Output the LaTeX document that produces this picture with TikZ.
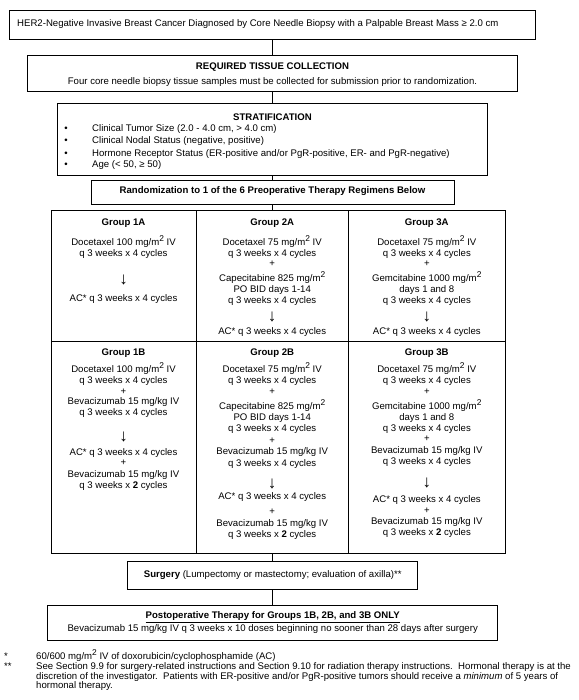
\documentclass[tikz,border=0pt]{standalone}
\usepackage{fontspec}
\setmainfont{Liberation Sans}
\newcommand\fs{\fontsize{9.6}{11}\selectfont}
\newcommand\sq{\raisebox{0.42em}{\fontsize{8.4}{9}\selectfont 2}}
\newcommand\arr{{\fontsize{17}{17}\selectfont ↓}}
\newcommand\Tl[4]{\node[txt] (#1) at (#2,#3) {#4};}
\newcommand\Tw[4]{\node[txtw] (#1) at (#2,#3) {#4};}
\newcommand\Ta[3]{\node[arrtxt] (#1) at (#2,#3) {\arr};}
\begin{document}
\begin{tikzpicture}[x=1pt,y=-1pt,
  box/.style={draw, line width=0.9pt, inner sep=0pt},
  txt/.style={inner sep=0pt, anchor=mid, font=\fs},
  txtw/.style={inner sep=0pt, anchor=mid west, font=\fs},
  arrtxt/.style={inner sep=0pt, anchor=center},
  link/.style={draw, line width=0.9pt}]
\useasboundingbox[fill=white] (0,0) rectangle (578,700);

% boxes
\node[box, minimum width=526.1pt, minimum height=28.6pt] (top) at (272.3,25) {};
\node[box, minimum width=489.6pt, minimum height=35.7pt] (tissue) at (272.5,73.15) {};
\node[box, minimum width=429.6pt, minimum height=72pt] (strat) at (272.5,139) {};
\node[box, minimum width=363pt, minimum height=24.4pt] (rand) at (272.5,192.5) {};
\node[box, minimum width=145pt, minimum height=130.3pt] (g1a) at (123.5,275.85) {};
\node[box, minimum width=152.3pt, minimum height=130.3pt] (g2a) at (272.15,275.85) {};
\node[box, minimum width=157pt, minimum height=130.3pt] (g3a) at (426.8,275.85) {};
\node[box, minimum width=145pt, minimum height=212.3pt] (g1b) at (123.5,447.15) {};
\node[box, minimum width=152.3pt, minimum height=212.3pt] (g2b) at (272.15,447.15) {};
\node[box, minimum width=157pt, minimum height=212.3pt] (g3b) at (426.8,447.15) {};
\node[box, minimum width=290pt, minimum height=28.3pt] (surg) at (272.7,575.15) {};
\node[box, minimum width=450pt, minimum height=35pt] (post) at (272.7,622.5) {};

% connectors
\draw[link] (top.south) -- (top.south |- tissue.north);
\draw[link] (tissue.south) -- (tissue.south |- strat.north);
\draw[link] (strat.south) -- (strat.south |- rand.north);
\draw[link] (rand.south) -- (rand.south |- g2a.north);
\draw[link] (g2b.south) -- (g2b.south |- surg.north);
\draw[link] (surg.south) -- (surg.south |- post.north);

% top texts
\Tw{t1}{17}{24}{HER2-Negative Invasive Breast Cancer Diagnosed by Core Needle Biopsy with a Palpable Breast Mass ≥ 2.0 cm}
\Tl{t2a}{272.5}{67}{\textbf{REQUIRED TISSUE COLLECTION}}
\Tl{t2b}{272.5}{82}{Four core needle biopsy tissue samples must be collected for submission prior to randomization.}
\Tl{t3}{272.5}{118}{\textbf{STRATIFICATION}}
\Tl{b1}{66}{128.5}{•}
\Tl{b2}{66}{141}{•}
\Tl{b3}{66}{153.5}{•}
\Tl{b4}{66}{165}{•}
\Tw{s1}{92}{128.5}{Clinical Tumor Size (2.0 - 4.0 cm, > 4.0 cm)}
\Tw{s2}{92}{141}{Clinical Nodal Status (negative, positive)}
\Tw{s3}{92}{153.5}{Hormone Receptor Status (ER-positive and/or PgR-positive, ER- and PgR-negative)}
\Tw{s4}{92}{165}{Age (< 50, ≥ 50)}
\Tl{t4}{272.5}{191}{\textbf{Randomization to 1 of the 6 Preoperative Therapy Regimens Below}}

% Group 1A
\Tl{a1t}{123.5}{223}{\textbf{Group 1A}}
\Tl{a11}{123.5}{243}{Docetaxel 100 mg/m\sq{} IV}
\Tl{a12}{123.5}{254}{q 3 weeks x 4 cycles}
\Ta{a13}{123.5}{280}
\Tl{a14}{123.5}{299}{AC* q 3 weeks x 4 cycles}
% Group 2A
\Tl{a2t}{272.2}{223}{\textbf{Group 2A}}
\Tl{a21}{272.2}{243}{Docetaxel 75 mg/m\sq{} IV}
\Tl{a22}{272.2}{254}{q 3 weeks x 4 cycles}
\Tl{a23}{272.2}{264}{+}
\Tl{a24}{272.2}{279}{Capecitabine 825 mg/m\sq}
\Tl{a25}{272.2}{290}{PO BID days 1-14}
\Tl{a26}{272.2}{301}{q 3 weeks x 4 cycles}
\Ta{a27}{272.2}{317}
\Tl{a28}{272.2}{332}{AC* q 3 weeks x 4 cycles}
% Group 3A
\Tl{a3t}{426.8}{223}{\textbf{Group 3A}}
\Tl{a31}{426.8}{243}{Docetaxel 75 mg/m\sq{} IV}
\Tl{a32}{426.8}{254}{q 3 weeks x 4 cycles}
\Tl{a33}{426.8}{264}{+}
\Tl{a34}{426.8}{279}{Gemcitabine 1000 mg/m\sq}
\Tl{a35}{426.8}{290}{days 1 and 8}
\Tl{a36}{426.8}{301}{q 3 weeks x 4 cycles}
\Ta{a37}{426.8}{317}
\Tl{a38}{426.8}{332}{AC* q 3 weeks x 4 cycles}

% Group 1B
\Tl{b1t}{123.5}{353}{\textbf{Group 1B}}
\Tl{b11}{123.5}{370}{Docetaxel 100 mg/m\sq{} IV}
\Tl{b12}{123.5}{381}{q 3 weeks x 4 cycles}
\Tl{b13}{123.5}{392}{+}
\Tl{b14}{123.5}{402}{Bevacizumab 15 mg/kg IV}
\Tl{b15}{123.5}{413}{q 3 weeks x 4 cycles}
\Ta{b16}{123.5}{437}
\Tl{b17}{123.5}{453}{AC* q 3 weeks x 4 cycles}
\Tl{b18}{123.5}{463}{+}
\Tl{b19}{123.5}{475}{Bevacizumab 15 mg/kg IV}
\Tl{b1x}{123.5}{486}{q 3 weeks x \textbf{2} cycles}
% Group 2B
\Tl{b2t}{272.2}{353}{\textbf{Group 2B}}
\Tl{b21}{272.2}{370}{Docetaxel 75 mg/m\sq{} IV}
\Tl{b22}{272.2}{381}{q 3 weeks x 4 cycles}
\Tl{b23}{272.2}{392}{+}
\Tl{b24}{272.2}{407}{Capecitabine 825 mg/m\sq}
\Tl{b25}{272.2}{418}{PO BID days 1-14}
\Tl{b26}{272.2}{429}{q 3 weeks x 4 cycles}
\Tl{b27}{272.2}{441}{+}
\Tl{b28}{272.2}{452}{Bevacizumab 15 mg/kg IV}
\Tl{b29}{272.2}{464}{q 3 weeks x 4 cycles}
\Ta{b2a}{272.2}{484}
\Tl{b2b}{272.2}{497}{AC* q 3 weeks x 4 cycles}
\Tl{b2c}{272.2}{512}{+}
\Tl{b2d}{272.2}{524}{Bevacizumab 15 mg/kg IV}
\Tl{b2e}{272.2}{535}{q 3 weeks x \textbf{2} cycles}
% Group 3B
\Tl{b3t}{426.8}{353}{\textbf{Group 3B}}
\Tl{b31}{426.8}{370}{Docetaxel 75 mg/m\sq{} IV}
\Tl{b32}{426.8}{381}{q 3 weeks x 4 cycles}
\Tl{b33}{426.8}{392}{+}
\Tl{b34}{426.8}{407}{Gemcitabine 1000 mg/m\sq}
\Tl{b35}{426.8}{418}{days 1 and 8}
\Tl{b36}{426.8}{429}{q 3 weeks x 4 cycles}
\Tl{b37}{426.8}{439}{+}
\Tl{b38}{426.8}{451}{Bevacizumab 15 mg/kg IV}
\Tl{b39}{426.8}{462}{q 3 weeks x 4 cycles}
\Ta{b3a}{426.8}{483}
\Tl{b3b}{426.8}{500}{AC* q 3 weeks x 4 cycles}
\Tl{b3c}{426.8}{511}{+}
\Tl{b3d}{426.8}{522}{Bevacizumab 15 mg/kg IV}
\Tl{b3e}{426.8}{533}{q 3 weeks x \textbf{2} cycles}

% surgery and postoperative
\Tl{su}{272.7}{575}{\textbf{Surgery} (Lumpectomy or mastectomy; evaluation of axilla)**}
\Tl{p1}{272.7}{616}{\underline{\textbf{Postoperative Therapy for Groups 1B, 2B, and 3B ONLY}}}
\Tl{p2}{272.7}{629}{Bevacizumab 15 mg/kg IV q 3 weeks x 10 doses beginning no sooner than 28 days after surgery}

% footnotes
\Tw{f1m}{4}{657}{*}
\Tw{f1}{36}{657}{60/600 mg/m\sq{} IV of doxorubicin/cyclophosphamide (AC)}
\Tw{f2m}{4}{667}{**}
\Tw{f2}{36}{667}{See Section 9.9 for surgery-related instructions and Section 9.10 for radiation therapy instructions.\ \ Hormonal therapy is at the}
\Tw{f3}{36}{676.7}{discretion of the investigator.\ \ Patients with ER-positive and/or PgR-positive tumors should receive a \textit{minimum} of 5 years of}
\Tw{f4}{36}{686}{hormonal therapy.}
\end{tikzpicture}
\end{document}
